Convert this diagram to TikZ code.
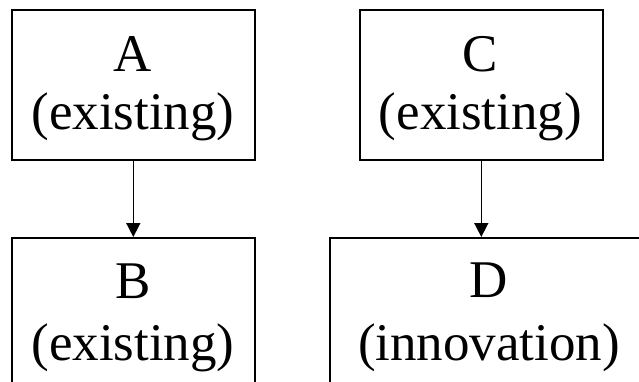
\documentclass[tikz,border=0pt]{standalone}
\usepackage{fontspec}
\setmainfont{Liberation Serif}
\newfontfamily\tnr{Liberation Serif}
\usetikzlibrary{arrows.meta}
\begin{document}
\begin{tikzpicture}[x=1pt,y=-1pt,
  box/.style={draw,line width=1.6pt,minimum height=149.5pt,inner sep=0pt,anchor=north west},
  lbl/.style={font=\tnr\fontsize{53}{58}\selectfont,anchor=base,inner sep=0pt},
  arr/.style={line width=1.6pt,-{Triangle[length=14pt,width=14pt]}}]
\useasboundingbox (0,0) rectangle (639,382);
\clip (0,0) rectangle (639,382);
\node[box,minimum width=243pt] (A) at (11,9.5) {};
\node[box,minimum width=243pt] (C) at (359,9.5) {};
\node[box,minimum width=243pt] (B) at (11,237) {};
\node[box,minimum width=322pt] (D) at (329,237) {};
\node[lbl] (At) at (133,72) {A};
\node[lbl] (Ae) at (133,130) {(existing)};
\node[lbl] (Ct) at (480.5,72) {C};
\node[lbl] (Ce) at (480.5,130) {(existing)};
\node[lbl] (Bt) at (133,298) {B};
\node[lbl] (Be) at (133,360) {(existing)};
\node[lbl] (Dt) at (489,297) {D};
\node[lbl] (De) at (489,360) {(innovation)};
\draw[arr] (A.south) -- (B.north);
\draw[arr] (C.south) -- (C.south |- D.north);
\end{tikzpicture}
\end{document}
